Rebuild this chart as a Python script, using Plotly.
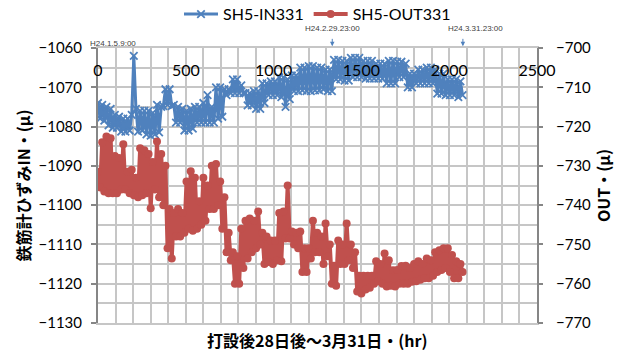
import numpy as np
import plotly.graph_objects as go

# Elapsed hours since H24.1.5 9:00, one reading every 12 h
hours = np.arange(0, 2077, 12)

# Rebar strain gauge, inner side (left axis, μ)
sh5_in331 = [
    -1074, -1078, -1074.5, -1078.5, -1075, -1079.7, -1075.5, -1080.3, -1077, -1080.3,
    -1077.5, -1081.3, -1078, -1081.3, -1078, -1081, -1077, -1062, -1075.5, -1081.3,
    -1076, -1081, -1076, -1082, -1076, -1082.3, -1076.5, -1082, -1074.5, -1081.5,
    -1075, -1074.8, -1070.5, -1074.5, -1070.5, -1074.8, -1074.5, -1079, -1075, -1079,
    -1075.5, -1081, -1076, -1081, -1075.5, -1080.5, -1075, -1079, -1075, -1079,
    -1074, -1079, -1072, -1079, -1075, -1079, -1070, -1078, -1070, -1077.5,
    -1070.5, -1072, -1070.5, -1071.5, -1068, -1071.5, -1068, -1071.5, -1069.5, -1071.5,
    -1071.5, -1074.6, -1071.5, -1074.6, -1071, -1075.5, -1071, -1075.5, -1069, -1074,
    -1069, -1072, -1068.5, -1072, -1068.5, -1072, -1067.5, -1072.5, -1067.5, -1075,
    -1068, -1073, -1067, -1071, -1067, -1071, -1065, -1070.8, -1065, -1071,
    -1064.6, -1071, -1064.6, -1070.8, -1065, -1070.8, -1065, -1070.5, -1065.5, -1071,
    -1065.5, -1071, -1063, -1068, -1063, -1068, -1063.3, -1068.3, -1063.3, -1068.3,
    -1062.5, -1067.4, -1062.5, -1067.4, -1062.5, -1067.4, -1063.3, -1067.8, -1063.3, -1067.8,
    -1063.3, -1067.8, -1064, -1067.8, -1064, -1067.8, -1064, -1069, -1063.3, -1069,
    -1063.3, -1069, -1063.5, -1067.4, -1063.5, -1067.4, -1064, -1070, -1066.5, -1070,
    -1066.5, -1069, -1065.5, -1069, -1065.5, -1069, -1065, -1069, -1065, -1069,
    -1065.5, -1071.6, -1066.5, -1071.6, -1066.5, -1072, -1068, -1072, -1068, -1072,
    -1068, -1072.5, -1068.5, -1072,
]

# Rebar strain gauge, outer side (right axis, μ)
sh5_out331 = [
    -731.5, -735.5, -724, -736.5, -722.5, -737, -723, -737, -727.5, -737,
    -728, -736, -724.5, -736, -731.5, -737, -731, -737.5, -733, -738,
    -725.5, -737.5, -726, -737, -727, -740.8, -729, -736, -723.8, -738,
    -727, -740, -730, -751, -741, -753.6, -742, -748, -741, -748,
    -742, -747, -734, -746, -731.4, -746.5, -733, -746, -739, -745,
    -733, -744, -735, -741, -730, -741, -729.5, -740, -734, -746,
    -738, -752, -747, -754, -752, -760, -753, -760, -746, -756,
    -744, -753.6, -743.4, -752, -744, -751, -741.6, -750, -747, -755,
    -748, -754.5, -749, -755, -749, -754, -742, -754.3, -741.6, -748.5,
    -735, -748.5, -746.7, -750, -747, -751, -746.7, -757, -751, -757,
    -751, -753.6, -744, -752, -747, -752, -748, -755, -744.7, -753,
    -750, -760, -755.4, -760.5, -749, -755, -750, -755, -744.7, -754,
    -750, -756, -752, -762, -758, -762.5, -758, -761.5, -758, -761,
    -758, -760, -754.3, -759.4, -755, -760, -752.3, -760.7, -754, -760.5,
    -756.6, -760.7, -756.5, -760, -755.5, -760, -755.4, -760, -756, -759.5,
    -755, -759.4, -754.3, -759, -755, -758.6, -753.6, -758.6, -754, -758,
    -752, -757, -751.5, -756.5, -751, -756, -751, -757, -752.7, -758.6,
    -754.3, -758.6, -755, -757,
]

x_ticks = [0, 500, 1000, 1500, 2000, 2500]
in_ticks = [-1130, -1120, -1110, -1100, -1090, -1080, -1070, -1060]
out_ticks = [-770, -760, -750, -740, -730, -720, -710, -700]

# Event marks (hour, label)
mark_hours = [1334, 2078]
mark_labels = ["H24.2.29.23:00", "H24.3.31.23:00"]
start_label = "H24.1.5.9:00"

BLUE = "#4f81bd"
RED = "#c0504d"
GRID = "#c6c6c6"
AXIS = "#868686"
TICKFONT = dict(family="Lato, 'Open Sans', sans-serif", size=15, color="#000000")
CJK_BOLD = dict(family="'Noto Sans CJK JP', sans-serif", size=16, color="#000000", weight="bold")

fig = go.Figure()
fig.add_trace(go.Scatter(
    x=hours, y=sh5_in331, name="SH5-IN331", mode="lines+markers",
    line=dict(color=BLUE, width=3),
    marker=dict(symbol="x-thin", size=7.5, color=BLUE, line=dict(color=BLUE, width=1.8)),
    yaxis="y",
))
fig.add_trace(go.Scatter(
    x=hours, y=sh5_out331, name="SH5-OUT331", mode="lines+markers",
    line=dict(color=RED, width=4),
    marker=dict(symbol="circle", size=8, color=RED, line=dict(width=0)),
    yaxis="y2",
))

annotations = [
    dict(text="打設後28日後～3月31日・(hr)", xref="paper", yref="paper", x=0.5, y=-0.062,
         xanchor="center", yanchor="middle", showarrow=False, font=CJK_BOLD),
    dict(text=start_label, xref="paper", yref="paper", x=-0.022, y=1.018,
         xanchor="left", yanchor="middle", showarrow=False,
         font=dict(family="'Liberation Sans', sans-serif", size=8, color="#404040")),
]
label_offsets = [0, 13]
for h, lab, off in zip(mark_hours, mark_labels, label_offsets):
    annotations.append(dict(
        text="", x=h, y=1.006, xref="x", yref="paper", showarrow=True,
        ax=0, ay=-9, arrowhead=2, arrowsize=0.9, arrowwidth=1, arrowcolor=BLUE,
    ))
    annotations.append(dict(
        text=lab, x=h, y=1.072, xref="x", yref="paper", xshift=off,
        xanchor="center", yanchor="middle", showarrow=False,
        font=dict(family="'Liberation Sans', sans-serif", size=8, color="#404040"),
    ))

fig.update_layout(
    width=623, height=353,
    margin=dict(l=98, r=86, t=48, b=30, autoexpand=False),
    paper_bgcolor="white", plot_bgcolor="white",
    showlegend=True,
    legend=dict(orientation="h", x=0.5, xanchor="center", y=0.96, yanchor="middle",
                yref="container",
                font=dict(family="Lato, 'Open Sans', sans-serif", size=16, color="#000000"),
                bgcolor="rgba(0,0,0,0)", itemwidth=34, tracegroupgap=0),
    xaxis=dict(
        range=[0, 2500], side="top", tickvals=x_ticks, ticks="",
        ticklabelposition="inside", ticklabeloverflow="allow", ticklabelstandoff=17,
        tickfont=dict(family="Lato, 'Open Sans', sans-serif", size=16, color="#000000"),
        showgrid=True, gridcolor=GRID, gridwidth=1.5,
        minor=dict(dtick=100, showgrid=True, gridcolor=GRID, gridwidth=1.5),
        showline=True, linecolor=GRID, linewidth=1.5, mirror=True, zeroline=False,
    ),
    yaxis=dict(
        range=[-1130, -1060], tickvals=in_ticks, ticks="outside", ticklen=5,
        tickcolor=AXIS, tickwidth=1.5, ticklabelstandoff=6, tickfont=TICKFONT,
        showgrid=True, gridcolor=GRID, gridwidth=1.5,
        minor=dict(dtick=5, showgrid=True, gridcolor=GRID, gridwidth=1.5),
        showline=True, linecolor=AXIS, linewidth=2, mirror=True, zeroline=False,
        title=dict(text="鉄筋計ひずみIN・(μ)", font=CJK_BOLD, standoff=4),
    ),
    yaxis2=dict(
        range=[-770, -700], tickvals=out_ticks, overlaying="y", side="right",
        ticks="outside", ticklen=5, tickcolor=AXIS, tickwidth=1.5, ticklabelstandoff=10,
        tickfont=TICKFONT, showgrid=False, showline=False, zeroline=False,
        title=dict(text="OUT・(μ)", font=CJK_BOLD, standoff=8),
    ),
    annotations=annotations,
)

fig.write_html("out.html")
